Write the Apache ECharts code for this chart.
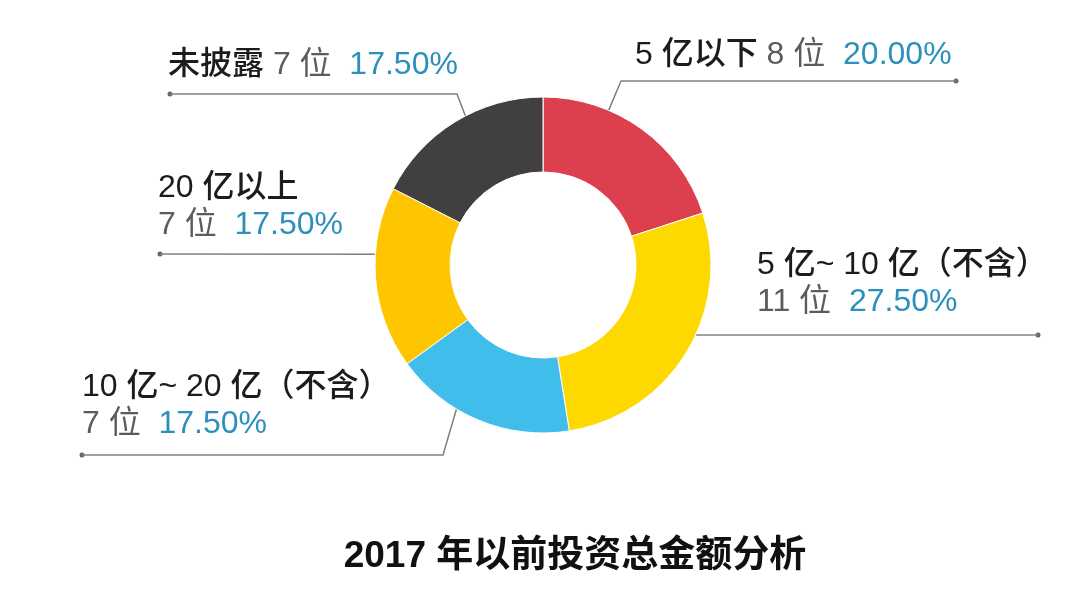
<!DOCTYPE html>
<html>
<head>
<meta charset="utf-8">
<title>2017 年以前投资总金额分析</title>
<script src="https://cdn.jsdelivr.net/npm/echarts@6/dist/echarts.min.js"></script>
<style>
    html, body { margin: 0; padding: 0; background: #fff; }
    #chart1 { width: 1080px; height: 615px; }
</style>
</head>
<body>
<div id="chart1"></div>
<script>
    // 数据
    var categories = ['5 亿以下', '5 亿~ 10 亿（不含）', '10 亿~ 20 亿（不含）', '20 亿以上', '未披露'];
    var counts = [8, 11, 7, 7, 7];
    var sliceColors = ['#DC404E', '#FDD900', '#41BDEC', '#FDC600', '#413F40'];

    // 标注线: 起点角度(正上方顺时针), 拐点, 终点, 文字左边x, 文字离线距离, 是否换行
    var center = [543, 265];
    var radius = [93, 168];
    var guides = [
        {angle: 23, bend: [621, 81], end: [956, 81], textX: 635, gap: 7, wrap: false},
        {angle: 114.6, bend: null, end: [1038, 335], textX: 757, gap: 14, wrap: true},
        {angle: 211, bend: [443, 455], end: [82, 455], textX: 82, gap: 12, wrap: true},
        {angle: 273.7, bend: null, end: [160, 254], textX: 158, gap: 10, wrap: true},
        {angle: 332.5, bend: [457, 94], end: [170, 94], textX: 168, gap: 10, wrap: false}
    ];

    function edgePoint(angle) {
        var a = angle * Math.PI / 180;
        return [center[0] + radius[1] * Math.sin(a), center[1] - radius[1] * Math.cos(a)];
    }

    var fontFamily = '"Liberation Sans", "Noto Sans CJK SC", sans-serif';

    var chart = echarts.init(document.getElementById('chart1'));

    var option = {
        backgroundColor: '#fff',
        title: {
            text: '2017 年以前投资总金额分析',
            left: 570,
            top: 533,
            textAlign: 'center',
            textStyle: {
                color: '#111',
                fontSize: 37,
                fontWeight: 'bold',
                fontFamily: fontFamily
            }
        },
        graphic: guides.map(function (g) {
            return {
                type: 'circle',
                silent: true,
                shape: {cx: g.end[0], cy: g.end[1], r: 2.5},
                style: {fill: '#666'}
            };
        }),
        series: [{
            type: 'pie',
            center: center,
            radius: radius,
            startAngle: 90,
            clockwise: true,
            avoidLabelOverlap: false,
            emphasis: {disabled: true},
            itemStyle: {borderColor: '#fff', borderWidth: 1},
            label: {
                show: true,
                position: 'outside',
                formatter: function (p) {
                    var g = guides[p.dataIndex];
                    var cnt = g.wrap ? '\n{c|' + p.value + ' 位 }' : '{c| ' + p.value + ' 位 }';
                    return '{n|' + p.name + '}' + cnt + '{p| ' + p.percent.toFixed(2) + '%}';
                },
                rich: {
                    n: {color: '#1c1c1c', fontSize: 32, lineHeight: 37, fontWeight: 500, fontFamily: fontFamily},
                    c: {color: '#5c5c5c', fontSize: 32, lineHeight: 37, fontFamily: fontFamily},
                    p: {color: '#2C90BC', fontSize: 32, lineHeight: 37, fontFamily: fontFamily}
                }
            },
            labelLine: {
                show: true,
                lineStyle: {color: '#808080', width: 1.5}
            },
            labelLayout: function (params) {
                var g = guides[params.dataIndex];
                var s = edgePoint(g.angle);
                var b = g.bend || s;
                return {
                    x: g.textX,
                    y: g.end[1] - g.gap,
                    align: 'left',
                    verticalAlign: 'bottom',
                    labelLinePoints: [s, b, g.end]
                };
            },
            data: categories.map(function (name, i) {
                return {name: name, value: counts[i], itemStyle: {color: sliceColors[i]}};
            })
        }]
    };

    chart.setOption(option);
</script>
</body>
</html>
